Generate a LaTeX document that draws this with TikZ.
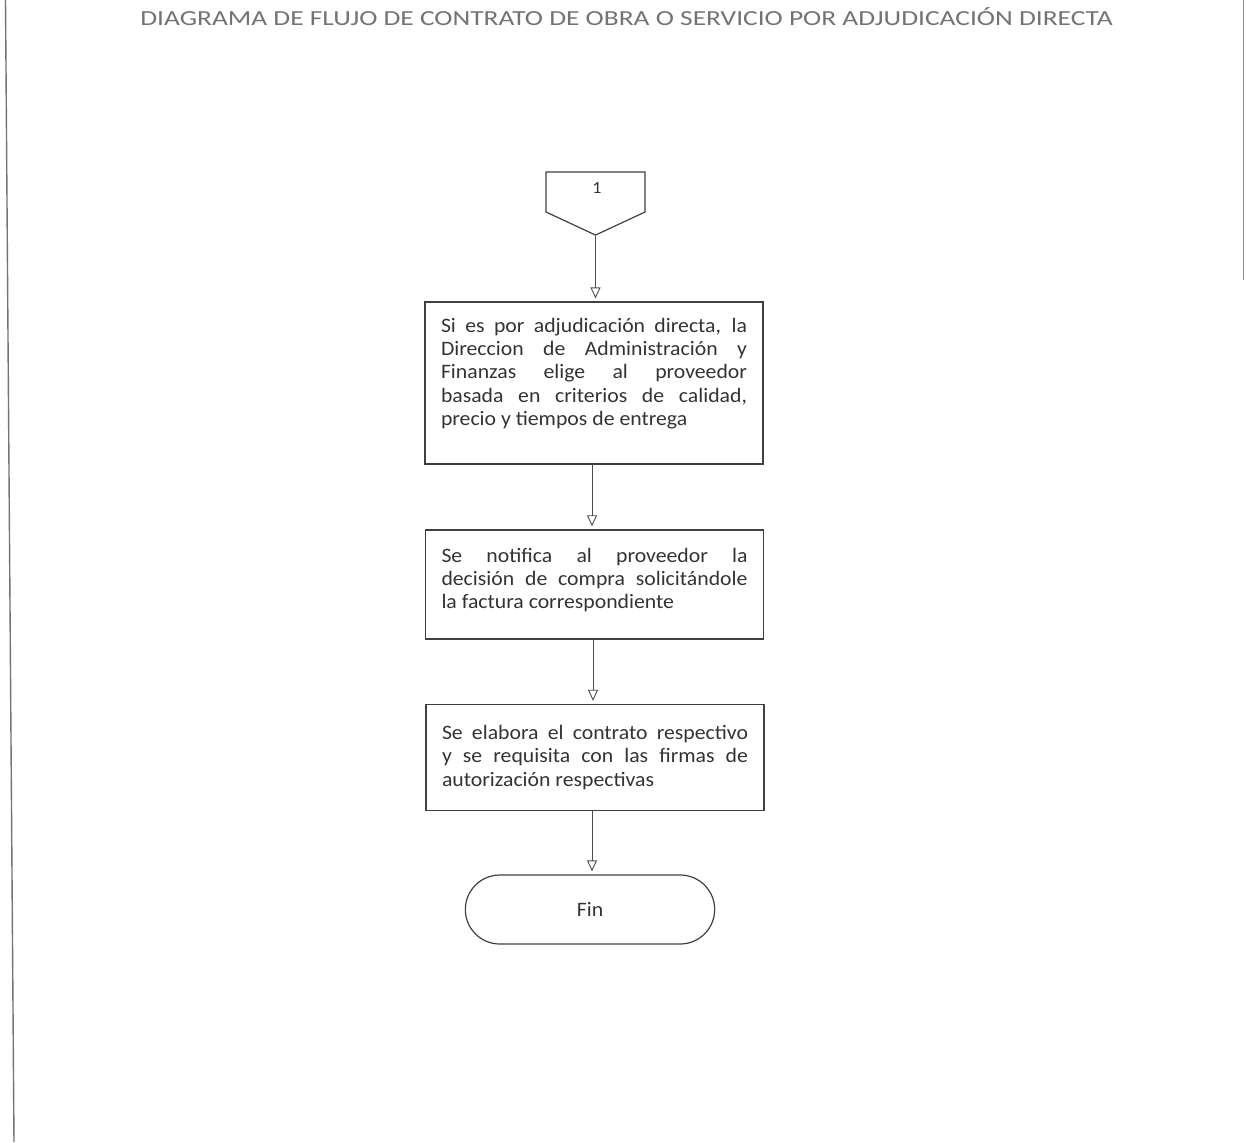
\documentclass[tikz,border=0pt]{standalone}
\usepackage{fontspec}
\setmainfont{Carlito}
\newfontfamily\titulofont{Carlito}[FakeStretch=1.276]
\newfontfamily\cajafont{Carlito}[FakeStretch=1.06]
\usepackage{tikz}
\usetikzlibrary{arrows.meta,shapes.symbols,shapes.misc}

\begin{document}
\begin{tikzpicture}[x=1pt,y=-1pt,
    proc/.style={draw=black!75,line width=1.2pt,text=black!80,
      text width=306pt,align=justify,inner xsep=16pt,inner ysep=16pt,
      font=\cajafont\fontsize{20.5}{23.3}\selectfont},
    flow/.style={draw=black!70,line width=0.9pt,shorten >=3pt,
      -{Triangle[open,width=10pt,length=11pt]}}]
  \useasboundingbox (0,0) rectangle (1246,1142);
  % borde del escaneo
  \draw [black!55,line width=1.4pt] (5.5,0) -- (14,1142);
  \draw [black!45,line width=1pt] (1243.5,0) -- (1243.5,280);
  \node (titulo) at (626.5,17) [text=black!55,font=\titulofont\fontsize{21.5}{24}\selectfont]
    {DIAGRAMA DE FLUJO DE CONTRATO DE OBRA O SERVICIO POR ADJUDICACIÓN DIRECTA};
  % conector de pagina
  \node (c1) at (595.5,192) [signal,signal to=south,signal pointer angle=130,
    draw=black!75,line width=1.2pt,minimum width=99pt,minimum height=40pt,
    inner sep=0pt] {};
  \node (uno) at (597,188) [text=black!80,font=\cajafont\fontsize{17}{20}\selectfont] {1};
  \node (b1) at (594,383) [proc] {Si es por adjudicación directa, la\linebreak
    Direccion de Administración y\linebreak
    Finanzas elige al proveedor\linebreak
    basada en criterios de calidad,\linebreak
    precio y tiempos de entrega\par\vspace*{19pt}};
  \node (b2) at (594.5,584.5) [proc,inner ysep=18pt] {Se notifica al proveedor la\linebreak
    decisión de compra solicitándole\linebreak
    la factura correspondiente\par\vspace*{9pt}};
  \node (b3) at (595,757.5) [proc,inner ysep=21pt] {Se elabora el contrato respectivo\linebreak
    y se requisita con las firmas de\linebreak
    autorización respectivas};
  \node (fin) at (590,909.5) [rounded rectangle,
    draw=black!75,line width=1.2pt,minimum width=256pt,minimum height=69pt,
    text=black!80,font=\cajafont\fontsize{20.5}{23}\selectfont] {Fin};
  \draw [flow] (c1.south) -- (b1.north -| c1.south);
  \draw [flow] (b1.south -| 592,0) -- (b2.north -| 592,0);
  \draw [flow] (b2.south -| 593,0) -- (b3.north -| 593,0);
  \draw [flow] (b3.south -| 592,0) -- (fin.north -| 592,0);
\end{tikzpicture}
\end{document}
